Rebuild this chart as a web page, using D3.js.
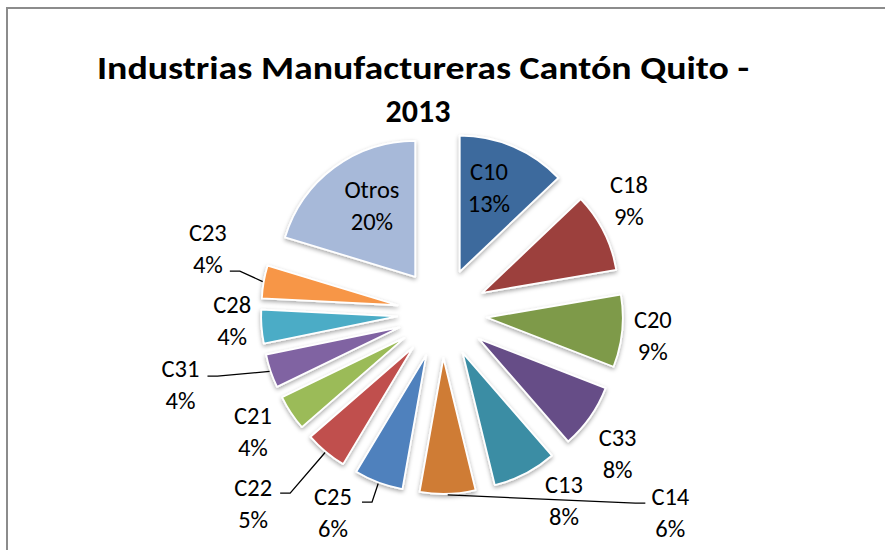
<!DOCTYPE html>
<html><head><meta charset="utf-8">
<script src="https://cdn.jsdelivr.net/npm/d3@7"></script>
<style>
html,body{margin:0;padding:0;background:#fff;}
svg{display:block;}
text{font-family:Carlito,Lato,"Open Sans",sans-serif;fill:#000;}
</style></head>
<body>
<svg id="chart" width="885" height="550"></svg>
<script>
// ---- data ----
const categories = ["C10","C18","C20","C33","C13","C14","C25","C22","C21","C31","C28","C23","Otros"];
const values     = [12.9, 9.4, 8.6, 7.7, 7.6, 6.6, 5.8, 5.0, 4.2, 4.0, 4.0, 3.9, 20.3];
const pctLabels  = ["13%","9%","9%","8%","8%","6%","6%","5%","4%","4%","4%","4%","20%"];
const colors     = ["#3E6A9D","#9C403D","#7E9A4A","#664E87","#3A8DA4","#CF7B36","#4F81BD","#C0504D","#9BBB59","#8064A2","#4BACC6","#F79646","#A7B9D9"];
const title1 = "Industrias Manufactureras Cantón Quito -";
const title2 = "2013";

// ---- layout (label placement, polar around pie center: radius, angle in deg clockwise from north) ----
const labelPolar = {
  C10:[134,20.5], C18:[218,59], C20:[212,96], C33:[225,128.7], C13:[224,147],
  C14:[303,131.1], C25:[227,208.7], C22:[268,224.8], C21:[223,238], C31:[271,254.8],
  C28:[210,268], C23:[243,285.5], Otros:[128,326.8]
};
// leaders: elbow end relative to label block center
const leaders = {
  C23:[22,23], C31:[27,-8], C22:[27,-10], C25:[29,-10], C14:[-25,-9]
};

const svg = d3.select("#chart");
const W = 885, H = 550;
const cx = 442, cy = 313, R = 136, explode = 45;

// border (top & left only visible)
svg.append("path").attr("d", `M7,${H} L7,8 L${W},8`)
  .attr("fill","none").attr("stroke","#8c8c8c").attr("stroke-width",2);

const defs = svg.append("defs");
const f = defs.append("filter").attr("id","shadow").attr("x","-20%").attr("y","-20%").attr("width","140%").attr("height","140%");
f.append("feDropShadow").attr("dx",0).attr("dy",2).attr("stdDeviation",2.2).attr("flood-color","#000").attr("flood-opacity",0.35);

// title
svg.append("text").attr("x",423).attr("y",79).attr("text-anchor","middle")
  .attr("font-weight","bold").attr("font-size",32)
  .attr("textLength",652).attr("lengthAdjust","spacingAndGlyphs").text(title1);
svg.append("text").attr("x",418).attr("y",122).attr("text-anchor","middle")
  .attr("font-weight","bold").attr("font-size",32).text(title2);

const data = categories.map((c,i)=>({cat:c, value:values[i], pct:pctLabels[i], color:colors[i]}));
const pie = d3.pie().value(d=>d.value).sort(null).startAngle(0).endAngle(2*Math.PI);
const arcs = pie(data);
const arc = d3.arc().innerRadius(0).outerRadius(R);

const g = svg.append("g").attr("transform",`translate(${cx},${cy})`);

function off(a, r){ return [Math.sin(a)*r, -Math.cos(a)*r]; }

g.selectAll("path.slice").data(arcs).enter().append("path")
  .attr("class","slice")
  .attr("transform", d=>{ const m=(d.startAngle+d.endAngle)/2; const o=off(m,explode); return `translate(${o[0]},${o[1]})`; })
  .attr("d", arc)
  .attr("fill", d=>d.data.color)
  .attr("stroke","#fff").attr("stroke-width",1.8).attr("stroke-linejoin","round")
  .attr("filter","url(#shadow)");

// labels
const lineGap = 32;
arcs.forEach(d=>{
  const lp = labelPolar[d.data.cat];
  const a = lp[1]*Math.PI/180;
  const p = off(a, lp[0]);
  const t = g.append("text").attr("text-anchor","middle").attr("font-size",24.5);
  t.append("tspan").attr("x",p[0]).attr("y",p[1]-lineGap/2+8.5).text(d.data.cat);
  t.append("tspan").attr("x",p[0]).attr("y",p[1]+lineGap/2+8.5).text(d.data.pct);
  const L = leaders[d.data.cat];
  if(L){
    const m=(d.startAngle+d.endAngle)/2;
    const s = off(m, explode+R+1);
    const ex = p[0]+L[0], ey = p[1]+L[1];
    const dir = L[0]>0 ? 1 : -1;
    const e2 = [ex+dir*10, ey];
    g.append("path").attr("d", `M${s[0]},${s[1]} L${e2[0]},${e2[1]} L${ex},${ey}`)
      .attr("fill","none").attr("stroke","#000").attr("stroke-width",1.3);
  }
});
</script>
</body></html>
